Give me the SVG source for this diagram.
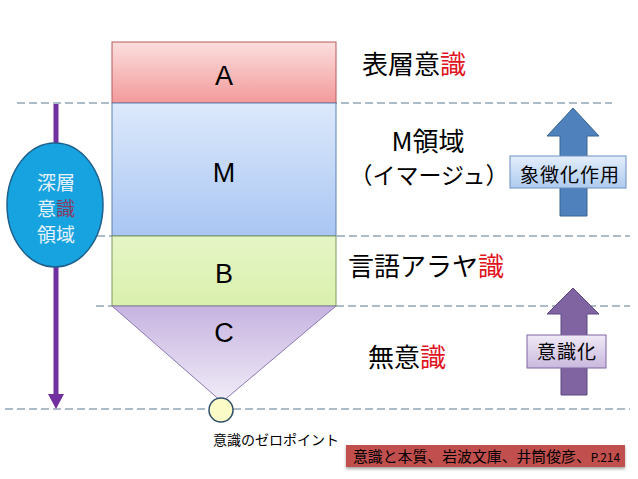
<svg xmlns="http://www.w3.org/2000/svg" width="638" height="479" viewBox="0 0 638 479">
<defs>
<linearGradient id="gA" x1="0" y1="0" x2="0" y2="1"><stop offset="0" stop-color="#fbdede"/><stop offset="1" stop-color="#f39a9a"/></linearGradient>
<linearGradient id="gM" x1="0" y1="0" x2="0" y2="1"><stop offset="0" stop-color="#dde9fb"/><stop offset="1" stop-color="#a9c6f3"/></linearGradient>
<linearGradient id="gB" x1="0" y1="0" x2="0" y2="1"><stop offset="0" stop-color="#e6f5c6"/><stop offset="1" stop-color="#d9f0ad"/></linearGradient>
<linearGradient id="gC" x1="0" y1="0" x2="0" y2="1"><stop offset="0" stop-color="#c6b3e0"/><stop offset="1" stop-color="#f1ecf8"/></linearGradient>
<linearGradient id="gBox1" x1="0" y1="0" x2="0" y2="1"><stop offset="0" stop-color="#e3eefb"/><stop offset="1" stop-color="#aecbef"/></linearGradient>
<linearGradient id="gBox2" x1="0" y1="0" x2="0" y2="1"><stop offset="0" stop-color="#f0eaf6"/><stop offset="1" stop-color="#c9b8de"/></linearGradient>
<filter id="sh" x="-5%" y="-30%" width="110%" height="170%"><feDropShadow dx="0" dy="2" stdDeviation="1.5" flood-color="#000" flood-opacity="0.35"/></filter>
</defs>
<style>
.dash{stroke:#5b7891;stroke-width:1;stroke-dasharray:8,4;fill:none}
.lbl{font-family:"Liberation Sans","Noto Sans CJK JP",sans-serif;font-size:27px;fill:#000;text-anchor:middle}
.jp{font-family:"Noto Sans CJK JP","Noto Sans CJK SC",sans-serif;fill:#000}
.red{fill:#e0141e}
.lt{fill:#e6f2fb}
</style>
<rect width="638" height="479" fill="#fff"/>
<g id="connectors">
<line class="dash" x1="17" y1="103" x2="612" y2="103"/>
<line class="dash" x1="97" y1="236" x2="630" y2="236"/>
<line class="dash" x1="96" y1="306" x2="630" y2="306"/>
<line class="dash" x1="5" y1="409" x2="630" y2="409"/>
<line x1="56" y1="104" x2="56" y2="396" stroke="#7030a0" stroke-width="5"/>
<path d="M48,394 L64,394 L56,409 Z" fill="#7030a0"/>
</g>
<g id="nodeA"><rect x="112" y="42" width="224" height="61" fill="url(#gA)" stroke="#b85a5a" stroke-width="1"/><text class="lbl" x="224" y="85">A</text></g>
<g id="nodeM"><rect x="112" y="103" width="224" height="133" fill="url(#gM)" stroke="#5f80b0" stroke-width="1"/><text class="lbl" x="224" y="182">M</text></g>
<g id="nodeB"><rect x="112" y="236" width="224" height="70" fill="url(#gB)" stroke="#7a9a5a" stroke-width="1"/><text class="lbl" x="224" y="283">B</text></g>
<g id="nodeC"><path d="M112,306 L336,306 L222,402 Z" fill="url(#gC)" stroke="#8a78ae" stroke-width="1"/><text class="lbl" x="224" y="342">C</text></g>
<g id="zero"><circle cx="221" cy="410" r="12" fill="#fbfbc8" stroke="#2f4f6a" stroke-width="1.5"/><text class="jp" x="213" y="445" font-size="14">意識のゼロポイント</text></g>
<g id="deep"><ellipse cx="55" cy="205" rx="48" ry="62" fill="#16a3e0" stroke="#1e5f8c" stroke-width="1.5"/>
<text class="jp lt" x="56" y="190" font-size="19" text-anchor="middle">深層</text>
<text class="jp" x="56" y="216" font-size="19" text-anchor="middle"><tspan class="lt">意</tspan><tspan fill="#8a3a5e">識</tspan></text>
<text class="jp lt" x="56" y="242" font-size="19" text-anchor="middle">領域</text></g>
<g id="labels">
<text class="jp" x="362" y="74" font-size="26">表層意<tspan class="red">識</tspan></text>
<text class="jp" x="428" y="151" font-size="26" text-anchor="middle">M領域</text>
<text class="jp" x="429" y="184" font-size="23" text-anchor="middle">（イマージュ）</text>
<text class="jp" x="348" y="276" font-size="26">言語アラヤ<tspan class="red">識</tspan></text>
<text class="jp" x="368" y="367" font-size="26">無意<tspan class="red">識</tspan></text>
</g>
<g id="arrow1"><path d="M573,108 L599,136 L587,136 L587,216 L560,216 L560,136 L547,136 Z" fill="#4f81bd" stroke="#3b6592" stroke-width="1"/>
<rect x="510" y="156" width="116" height="32" fill="url(#gBox1)" stroke="#6d8fbf" stroke-width="1"/>
<text class="jp" x="570" y="182" font-size="19" text-anchor="middle" letter-spacing="1">象徴化作用</text></g>
<g id="arrow2"><path d="M573,288 L599,314 L587,314 L587,395 L561,395 L561,314 L547,314 Z" fill="#8064a2" stroke="#5d4883" stroke-width="1"/>
<rect x="527" y="335" width="79" height="33" fill="url(#gBox2)" stroke="#8064a2" stroke-width="1"/>
<text class="jp" x="567" y="359" font-size="19" text-anchor="middle" letter-spacing="1">意識化</text></g>
<g id="ref"><rect x="346" y="445" width="279" height="22" fill="#c0504d" filter="url(#sh)"/>
<text class="jp" x="353" y="462" font-size="15" fill="#fff" textLength="267" lengthAdjust="spacingAndGlyphs">意識と本質、岩波文庫、井筒俊彦、<tspan font-size="12">P.214</tspan></text></g>
</svg>
